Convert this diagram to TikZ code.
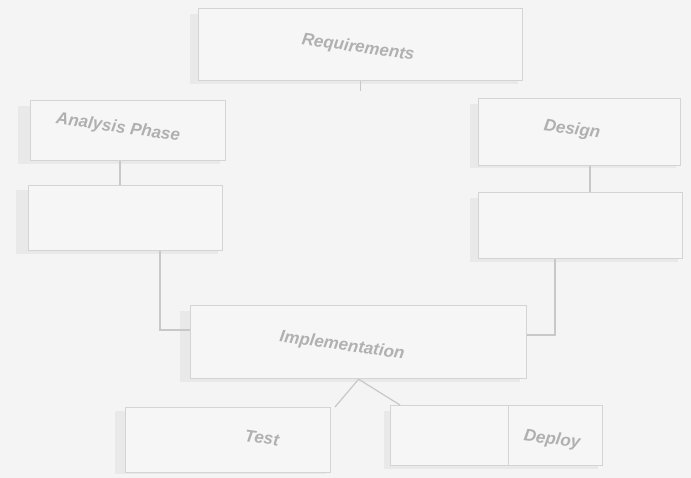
\documentclass[tikz,border=0pt]{standalone}
\usepackage{fontspec}
\setmainfont{Liberation Sans}
\definecolor{bg}{HTML}{F4F4F4}
\definecolor{boxfill}{HTML}{F6F6F6}
\definecolor{edge}{HTML}{D4D4D4}
\definecolor{shadowc}{HTML}{E9E9E9}
\definecolor{txt}{HTML}{B0B0B0}
\definecolor{conn}{HTML}{C8C8C8}
\tikzset{
  card/.style={draw=edge, line width=1.2pt, fill=boxfill, inner sep=0pt, anchor=north west},
  lbl/.style={text=txt, font=\itshape\bfseries\fontsize{17}{19}\selectfont, rotate=-8},
  link/.style={draw=conn, line width=1.2pt}
}
\begin{document}
\begin{tikzpicture}[x=1pt,y=-1pt]
\fill[bg] (0,0) rectangle (691,478);
\useasboundingbox (0,0) rectangle (691,478);
% shadows
\fill[shadowc] (190,14) rectangle (518,84);
\fill[shadowc] (18,106) rectangle (220,164);
\fill[shadowc] (16,190) rectangle (218,254);
\fill[shadowc] (470,104) rectangle (676,168);
\fill[shadowc] (470,198) rectangle (678,262);
\fill[shadowc] (180,311) rectangle (520,382);
\fill[shadowc] (115,411) rectangle (326,474);
\fill[shadowc] (384,411) rectangle (598,469);
% boxes
\node[card, minimum width=324pt, minimum height=72pt] (top) at (198,8) {};
\node[card, minimum width=195pt, minimum height=60pt] (l1) at (30,100) {};
\node[card, minimum width=194pt, minimum height=65pt] (l2) at (28,185) {};
\node[card, minimum width=202pt, minimum height=67pt] (r1) at (478,98) {};
\node[card, minimum width=204pt, minimum height=66pt] (r2) at (478,192) {};
\node[card, minimum width=336pt, minimum height=73pt] (mid) at (190,305) {};
\node[card, minimum width=205pt, minimum height=65pt] (bl) at (125,407) {};
\node[card, minimum width=212pt, minimum height=60pt] (br) at (390,405) {};
\draw[edge, line width=1pt] (508,405) -- (508,465);
% labels
\node[lbl] (ttop) at (358,48) {Requirements};
\node[lbl] (tl1) at (118,128) {Analysis Phase};
\node[lbl] (tr1) at (572,130) {Design};
\node[lbl] (tmid) at (342,346) {Implementation};
\node[lbl] (tbl) at (262,438) {Test};
\node[lbl] (tbr) at (552,440) {Deploy};
% connectors
\coordinate (c1) at (160,330);
\coordinate (c2) at (555,335);
\draw[link] (top.south) -- ++(0,10);
\draw[link] (l1.south -| 120,0) -- (l2.north -| 120,0);
\draw[link] (r1.south -| 590,0) -- (r2.north -| 590,0);
\draw[link] (l2.south -| 160,0) -- (c1) -- (mid.west |- c1);
\draw[link] (r2.south -| 555,0) -- (c2) -- (mid.east |- c2);
\draw[link] (mid.south) -- (335,407);
\draw[link] (mid.south) -- (400,405);
\end{tikzpicture}
\end{document}
